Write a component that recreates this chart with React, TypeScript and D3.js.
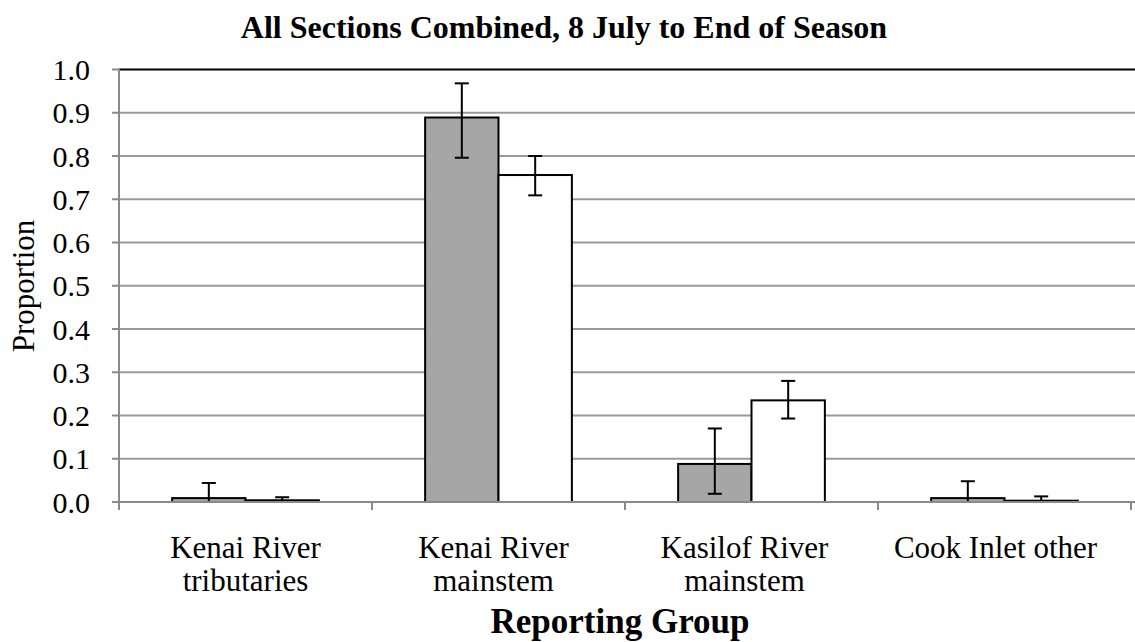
import React from "react";
import * as d3 from "d3";

const categories = ["Kenai River tributaries", "Kenai River mainstem", "Kasilof River mainstem", "Cook Inlet other"];
const labelLines = [["Kenai River", "tributaries"], ["Kenai River", "mainstem"], ["Kasilof River", "mainstem"], ["Cook Inlet other"]];
const grayValues = [0.009, 0.889, 0.088, 0.009];
const grayLow = [0.0, 0.796, 0.019, 0.0];
const grayHigh = [0.044, 0.968, 0.170, 0.048];
const whiteValues = [0.004, 0.756, 0.235, 0.003];
const whiteLow = [0.0, 0.709, 0.193, 0.0];
const whiteHigh = [0.011, 0.800, 0.280, 0.013];
const yTicks = [0, 0.1, 0.2, 0.3, 0.4, 0.5, 0.6, 0.7, 0.8, 0.9, 1.0];

const W = 1135, H = 642;
const X0 = 119, X1 = 1131;
const Y0 = 502, Y1 = 69.5;
const FONT = "'Liberation Serif', 'Times New Roman', serif";

export default function App() {
  const x = d3.scaleBand<string>().domain(categories).range([X0, X1]).padding(0);
  const y = d3.scaleLinear().domain([0, 1]).range([Y0, Y1]);
  const step = x.step();
  const bw = step * 0.29;
  const cap = 7;
  const series = [
    { vals: grayValues, lo: grayLow, hi: grayHigh, fill: "#a6a6a6", off: -bw },
    { vals: whiteValues, lo: whiteLow, hi: whiteHigh, fill: "#ffffff", off: 0 },
  ];
  const boundaries = d3.range(categories.length + 1).map((i) => X0 + i * step);
  return (
    <svg width={W} height={H} style={{ position: "absolute", left: 0, top: 0, background: "#fff" }}>
      <rect x={0} y={0} width={W} height={H} fill="#fff" />
      <text x={564} y={38} textAnchor="middle" fontFamily={FONT} fontWeight="bold" fontSize={32}>
        All Sections Combined, 8 July to End of Season
      </text>
      {yTicks.slice(1, -1).map((t) => (
        <line key={t} x1={X0} x2={W} y1={y(t)} y2={y(t)} stroke="#9a9a9a" strokeWidth={2} />
      ))}
      <line x1={X0} x2={W} y1={y(1)} y2={y(1)} stroke="#000" strokeWidth={2} />
      {series.map((s, si) =>
        categories.map((c, i) => {
          const cx = (x(c) as number) + step / 2;
          const bx = cx + s.off;
          return (
            <g key={si + "-" + i}>
              <rect x={bx} y={y(s.vals[i])} width={bw} height={Y0 - y(s.vals[i])} fill={s.fill} stroke="#000" strokeWidth={2} />
            </g>
          );
        })
      )}
      {series.map((s, si) =>
        categories.map((c, i) => {
          const cx = (x(c) as number) + step / 2;
          const ex = cx + s.off + bw / 2;
          return (
            <g key={"e" + si + "-" + i} stroke="#000" strokeWidth={2}>
              <line x1={ex} x2={ex} y1={y(s.hi[i])} y2={y(s.lo[i])} />
              <line x1={ex - cap} x2={ex + cap} y1={y(s.hi[i])} y2={y(s.hi[i])} />
              {s.lo[i] > 0 && <line x1={ex - cap} x2={ex + cap} y1={y(s.lo[i])} y2={y(s.lo[i])} />}
            </g>
          );
        })
      )}
      <line x1={X0} x2={X0} y1={y(1) - 1} y2={Y0 + 8} stroke="#8a8a8a" strokeWidth={2} />
      <line x1={X0 - 7} x2={W} y1={Y0} y2={Y0} stroke="#8a8a8a" strokeWidth={2} />
      {yTicks.map((t) => (
        <g key={"t" + t}>
          <line x1={X0 - 7} x2={X0} y1={y(t)} y2={y(t)} stroke="#8a8a8a" strokeWidth={2} />
          <text x={90} y={y(t)} dy="0.35em" textAnchor="end" fontFamily={FONT} fontSize={30}>
            {t.toFixed(1)}
          </text>
        </g>
      ))}
      {boundaries.map((b, i) => (
        <line key={"b" + i} x1={b} x2={b} y1={Y0} y2={Y0 + 8} stroke="#8a8a8a" strokeWidth={2} />
      ))}
      {categories.map((c, i) => {
        const cx = (x(c) as number) + step / 2 - 2 * i - (i > 0 ? 3 : 0);
        return (
          <text key={"l" + c} textAnchor="middle" fontFamily={FONT} fontSize={31}>
            {labelLines[i].map((ln, j) => (
              <tspan key={j} x={cx} y={558 + j * 33}>{ln}</tspan>
            ))}
          </text>
        );
      })}
      <text transform={`translate(34,286) rotate(-90)`} textAnchor="middle" fontFamily={FONT} fontSize={31}>
        Proportion
      </text>
      <text x={620} y={633} textAnchor="middle" fontFamily={FONT} fontWeight="bold" fontSize={35}>
        Reporting Group
      </text>
    </svg>
  );
}
